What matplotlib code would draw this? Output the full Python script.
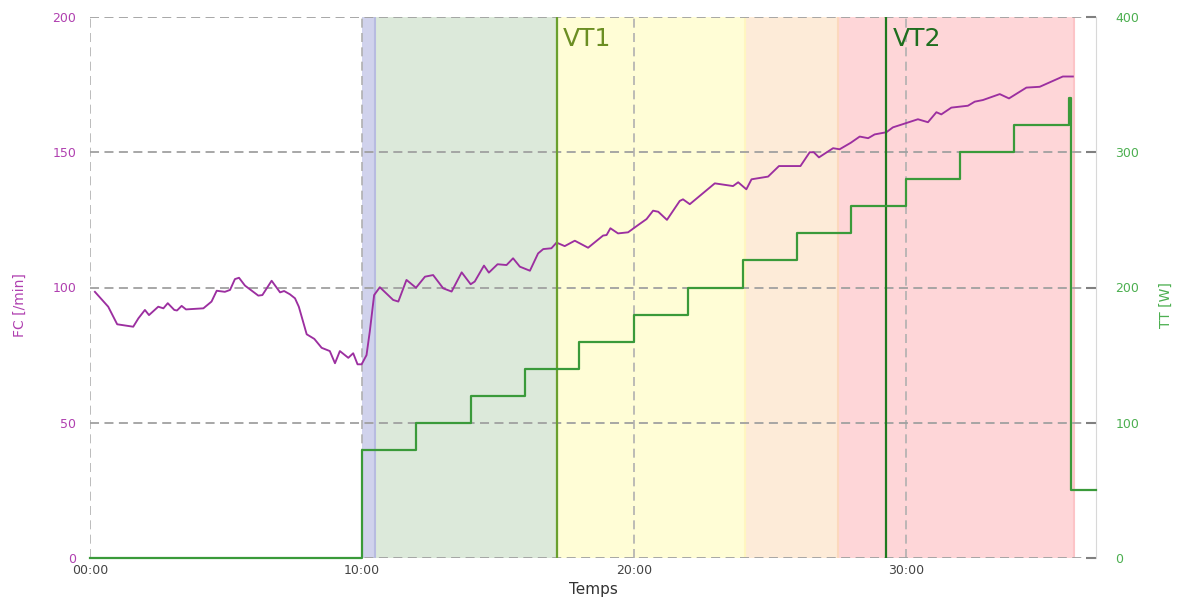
import matplotlib.pyplot as plt
from matplotlib.ticker import FuncFormatter, FixedLocator
import matplotlib.transforms as mtransforms

# heart rate (minutes, bpm)
hr_time = [0.18, 0.67, 1.0, 1.59, 1.78, 2.02, 2.17, 2.51, 2.7, 2.86, 3.1, 3.2, 3.37, 3.53,
           4.17, 4.47, 4.66, 4.96, 5.15, 5.33, 5.48, 5.7, 6.19, 6.34, 6.68, 6.99, 7.14,
           7.35, 7.54, 7.68, 7.97, 8.25, 8.52, 8.82, 9.01, 9.19, 9.5, 9.68, 9.84, 9.99,
           10.17, 10.29, 10.45, 10.66, 11.15, 11.34, 11.64, 11.99, 12.32, 12.62, 12.99,
           13.3, 13.67, 14.0, 14.15, 14.49, 14.67, 14.99, 15.32, 15.56, 15.81, 16.18,
           16.48, 16.67, 16.97, 17.16, 17.46, 17.83, 18.32, 18.87, 19.0, 19.14, 19.42,
           19.79, 20.16, 20.47, 20.71, 20.9, 21.22, 21.69, 21.81, 22.06, 22.98, 23.65,
           23.84, 24.14, 24.33, 24.94, 25.34, 26.13, 26.47, 26.62, 26.81, 27.33, 27.57,
           27.98, 28.31, 28.62, 28.86, 29.29, 29.53, 29.9, 30.45, 30.82, 31.13, 31.31,
           31.68, 32.29, 32.54, 32.84, 33.46, 33.8, 34.44, 34.93, 35.78, 36.15]
hr_bpm = [98.4, 92.9, 86.4, 85.5, 88.6, 91.7, 89.8, 92.9, 92.3, 94.2, 91.7, 91.5, 93.2, 91.9,
          92.3, 94.8, 98.8, 98.4, 99.1, 103.1, 103.6, 100.7, 97.0, 97.2, 102.5, 98.2, 98.7,
          97.5, 96.0, 92.9, 82.7, 81.0, 77.7, 76.5, 72.0, 76.5, 74.0, 75.7, 71.6, 71.6,
          75.0, 83.7, 97.2, 100.1, 95.4, 94.8, 102.8, 99.9, 104.0, 104.6, 99.7,
          98.5, 105.6, 101.2, 102.2, 108.1, 105.5, 108.6, 108.3, 110.8, 107.7, 106.2,
          112.6, 114.2, 114.5, 116.6, 115.3, 117.3, 114.7, 119.2, 119.4, 121.9, 120.0,
          120.4, 123.1, 125.3, 128.4, 128.0, 125.0, 132.0, 132.6, 130.8, 138.5, 137.5,
          138.9, 136.3, 140.0, 141.0, 144.9, 144.9, 150.0, 150.0, 148.1, 151.5, 151.1,
          153.5, 155.8, 155.2, 156.6, 157.4, 159.2, 160.4, 162.2, 161.1, 164.8, 164.0,
          166.5, 167.2, 168.7, 169.3, 171.5, 169.9, 173.9, 174.2, 178.0, 178.0]

# power steps (start minute, watts)
power_start = [0, 10, 12, 14, 16, 18, 20, 22, 24, 26, 28, 30, 32, 34, 36.0, 36.08]
power_watts = [0, 80, 100, 120, 140, 160, 180, 200, 220, 240, 260, 280, 300, 320, 340, 50]
t_end = 37.0

# intensity zones (start, end, colour)
zone_edges = [10.0, 10.5, 17.17, 24.08, 27.5, 36.18]
zone_colors = ['#d0d2ec', '#dce9da', '#fffdd6', '#fdebd8', '#fed6d8']
zone_edge_colors = ['#b8bbe0', '#cddccb', '#fff6c0', '#fcd8bd', '#fcc4c7']

vt1 = 17.17
vt2 = 29.29

purple = '#9c2fa0'
green = '#3a9a3a'

fig = plt.figure(figsize=(11.82, 6.01), dpi=100)
ax = fig.add_axes([90 / 1182, 43 / 601, (1096 - 90) / 1182, (558 - 17) / 601])
ax2 = ax.twinx()

for i, c in enumerate(zone_colors):
    ax.axvspan(zone_edges[i], zone_edges[i + 1], facecolor=c, edgecolor='none', zorder=0.5)
    ax.axvline(zone_edges[i + 1], color=zone_edge_colors[i], lw=1.5, zorder=0.6)

ax.plot(hr_time, hr_bpm, color=purple, lw=1.35, zorder=3)

ps = power_start + [t_end]
pw = power_watts + [power_watts[-1]]
ax2.step(ps, pw, where='post', color=green, lw=1.6, zorder=3, clip_on=False)

ax2.axvline(vt1, color='#6aa02e', lw=1.6, zorder=2)
ax2.axvline(vt2, color='#1f7a1f', lw=1.6, zorder=2)
off = mtransforms.offset_copy(ax.get_xaxis_transform(), fig=fig, x=6, y=-10, units='dots')
ax2.text(vt1, 1.0, 'VT1', transform=off, color='#6b8e23', fontsize=18, va='top', ha='left')
ax2.text(vt2, 1.0, 'VT2', transform=off, color='#1f6e1f', fontsize=18, va='top', ha='left')

ax.set_xlim(0, t_end)
ax.set_ylim(0, 200)
ax2.set_ylim(0, 400)

ax.xaxis.set_major_locator(FixedLocator([0, 10, 20, 30]))
ax.set_yticks([0, 50, 100, 150, 200])
ax2.set_yticks([0, 100, 200, 300, 400])
ax.grid(True, axis='y', color='#a0a0a0', lw=1.3, linestyle=(0, (5.0, 3.0)))
ax.grid(True, axis='x', color='#b0b0b0', lw=1.2, linestyle=(0, (5.4, 3.2)))
ax.xaxis.set_major_formatter(FuncFormatter(lambda v, p: '%02d:00' % int(v)))

for s in ['left', 'top', 'bottom']:
    ax.spines[s].set_visible(False)
    ax2.spines[s].set_visible(False)
ax.spines['right'].set_visible(False)
ax2.spines['right'].set_color('#d8d8d8')

ax.tick_params(axis='y', length=0, colors='#b040b0', labelsize=9, pad=10)
ax.tick_params(axis='x', length=0, colors='#444444', labelsize=9, pad=4)
ax2.tick_params(axis='y', direction='in', length=7, width=1.5, color='#808080',
                labelcolor='#4caf50', labelsize=9, pad=14)

ax.set_xlabel('Temps', fontsize=11, color='#333333', labelpad=4)
fig.text(20 / 1182, 1 - 305 / 601, 'FC [/min]', rotation=90, fontsize=10,
         color='#b040b0', ha='center', va='center')
fig.text(1166 / 1182, 1 - 305 / 601, 'TT [W]', rotation=90, fontsize=10,
         color='#4caf50', ha='center', va='center')

fig.savefig('out.png', dpi=100)
